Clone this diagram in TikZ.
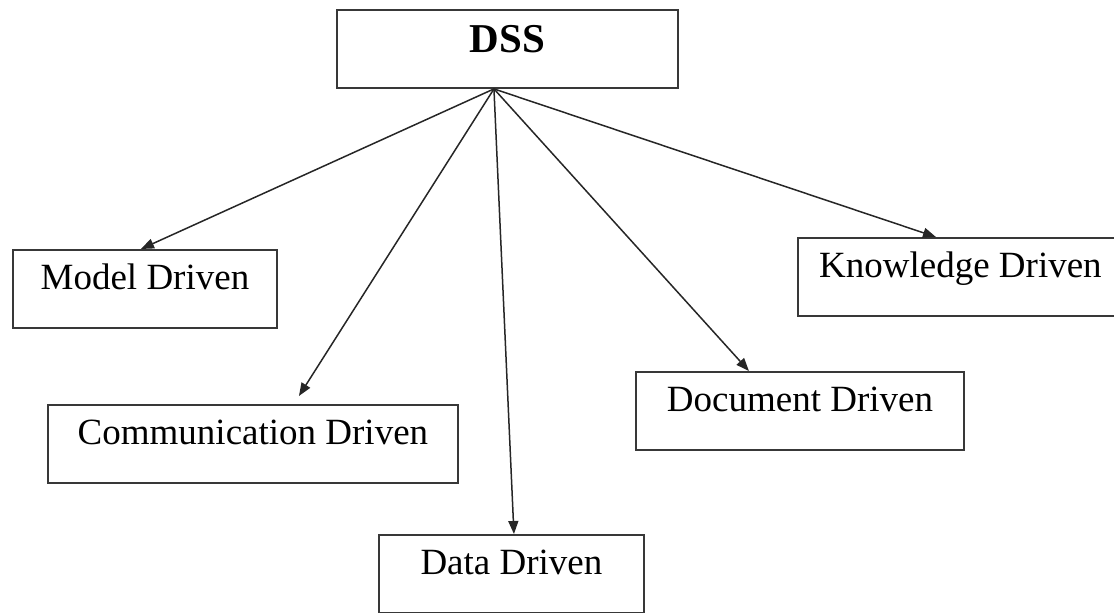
\documentclass[tikz,border=0pt]{standalone}
\usepackage{fontspec}
\setmainfont{Liberation Serif}
\usetikzlibrary{arrows.meta,calc}
\begin{document}
\begin{tikzpicture}[x=1pt,y=-1pt,
  box/.style={draw=black!78,line width=1.9pt,inner xsep=0pt,inner ysep=0pt,
    text height=40pt,text depth=38pt,anchor=north west,align=center,
    font=\fontsize{37}{40}\selectfont},
  conn/.style={-{Triangle[length=13pt,width=10pt]},line width=1.5pt,draw=black!85}]
\useasboundingbox (0,0) rectangle (1114,613);
\node[box,minimum width=341pt,text height=43pt,text depth=35pt,
  font=\fontsize{41}{44}\selectfont\bfseries] (dss) at (336,9) {DSS};
\node[box,minimum width=264pt] (m) at (12,249) {Model Driven};
\node[box,minimum width=410pt] (c) at (47,404) {Communication Driven};
\node[box,minimum width=265pt] (d) at (378,534) {Data Driven};
\node[box,minimum width=328pt] (doc) at (635,371) {Document Driven};
\node[box,minimum width=325pt] (k) at (797,237) {Knowledge Driven};
\coordinate (apex) at ($(dss.south)+(-13.5,0)$);
\coordinate (tm) at ($(m.north)+(-4,0)$);
\coordinate (tc) at ($(c.north)+(46,-8)$);
\coordinate (td) at ($(d.north)+(2.5,0)$);
\coordinate (tdoc) at ($(doc.north)+(-51,0)$);
\coordinate (tk) at ($(k.north)+(-24.5,0)$);
\draw[conn] (apex) -- (tm);
\draw[conn] (apex) -- (tc);
\draw[conn] (apex) -- (td);
\draw[conn] (apex) -- (tdoc);
\draw[conn] (apex) -- (tk);
\end{tikzpicture}
\end{document}
